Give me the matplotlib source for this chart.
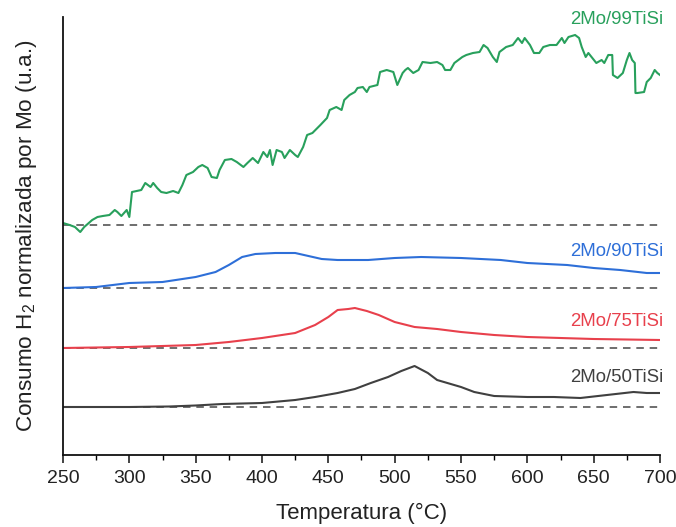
import matplotlib
matplotlib.use("Agg")
import matplotlib.pyplot as plt
from matplotlib.ticker import MultipleLocator

plt.rcParams['font.family'] = ['Liberation Sans', 'DejaVu Sans']

# ---- data (temperature in °C, signal in arbitrary units) ----
t_50 = [250, 300, 330, 350, 370, 400, 425, 440, 457, 470, 482, 495, 505, 515,
        525, 532, 550, 560, 575, 600, 620, 640, 660, 680, 690, 700]
y_50 = [48, 48, 48.5, 49.5, 51, 52, 55, 58, 62, 66, 72, 78, 84, 89,
        82, 75, 68, 63, 59, 58, 58, 57, 60, 63, 62, 62]
base_50 = 48

t_75 = [250, 300, 350, 375, 400, 425, 440, 450, 457, 465, 470, 479, 488, 500,
        515, 532, 550, 575, 600, 650, 700]
y_75 = [107, 108, 110, 113, 117, 122, 130, 138, 145, 146, 147, 144, 140, 133,
        128, 126, 123, 120, 118, 116, 115]
base_75 = 107

t_90 = [250, 275, 300, 325, 350, 365, 375, 385, 395, 410, 425, 435, 445, 457,
        480, 500, 520, 550, 580, 600, 630, 650, 670, 690, 700]
y_90 = [167, 168, 172, 173, 178, 183, 190, 198, 201, 202, 202, 199, 196, 195,
        195, 197, 198, 197, 195, 192, 190, 187, 185, 182, 182]
base_90 = 167

t_99 = [250, 255, 259, 263, 266, 272, 276, 280, 285, 289, 291, 294, 298, 300,
        302, 309, 312, 316, 318, 321, 324, 328, 333, 337, 340, 343, 348, 352,
        355, 359, 362, 366, 368, 372, 377, 381, 386, 389, 393, 397, 401, 404,
        406, 408, 411, 415, 417, 421, 425, 427, 431, 434, 438, 444, 449, 451,
        456, 460, 462, 466, 470, 472, 476, 479, 481, 487, 489, 494, 499, 502,
        506, 508, 510, 514, 518, 521, 527, 532, 536, 538, 542, 545, 551, 554,
        559, 564, 567, 570, 574, 577, 579, 584, 589, 593, 596, 598, 602, 605,
        609, 612, 617, 622, 626, 628, 631, 636, 639, 641, 644, 646, 649, 652,
        656, 658, 661, 664, 664.5, 668, 672, 675, 677, 679, 681, 681.5, 683,
        688, 690, 693, 696, 698, 700]
y_99 = [232, 230, 228, 223, 228, 235, 238, 239, 240, 245, 243, 239, 245, 238,
        263, 265, 272, 268, 272, 267, 263, 262, 264, 262, 270, 280, 283, 288,
        290, 287, 278, 277, 285, 295, 296, 293, 288, 292, 297, 292, 303, 298,
        305, 290, 305, 303, 297, 305, 300, 298, 308, 320, 322, 330, 337, 345,
        348, 345, 355, 360, 363, 367, 368, 363, 368, 370, 383, 385, 383, 370,
        382, 385, 387, 382, 385, 393, 392, 393, 390, 385, 385, 392, 398, 400,
        402, 403, 410, 407, 398, 393, 403, 408, 410, 417, 412, 417, 410, 402,
        402, 408, 410, 410, 417, 412, 418, 420, 417, 408, 398, 402, 397, 392,
        395, 392, 400, 400, 380, 377, 382, 395, 402, 395, 392, 362, 362,
        363, 373, 377, 385, 382, 380]
base_99 = 230

series = [
    ("2Mo/50TiSi", t_50, y_50, base_50, "#404040", 378),
    ("2Mo/75TiSi", t_75, y_75, base_75, "#e8404c", 321),
    ("2Mo/90TiSi", t_90, y_90, base_90, "#2e6fd8", 252),
    ("2Mo/99TiSi", t_99, y_99, base_99, "#28a05c", 20),
]

xticks = [250, 300, 350, 400, 450, 500, 550, 600, 650, 700]

fig = plt.figure(figsize=(6.76, 5.27), dpi=100)
ax = fig.add_axes([63/676, 1-455/527, (660-63)/676, (455-17)/527])

for name, t, y, base, color, label_py in series:
    ax.plot([250, 700], [base, base], linestyle=(0, (4.5, 3.5)), color="#555555", lw=1.2, zorder=1)
    ax.plot(t, y, color=color, lw=1.5, zorder=2)
    ax.text(702.5, 455 - label_py, name, color=color, fontsize=13.4, ha="right", va="center",
            clip_on=False)

ax.set_xlim(250, 700)
ax.set_ylim(0, 438)
ax.set_xticks(xticks)
ax.xaxis.set_minor_locator(MultipleLocator(25))
ax.tick_params(axis="x", which="major", direction="out", length=6, width=1.2, labelsize=14, pad=5, colors="#222222")
ax.tick_params(axis="x", which="minor", direction="out", length=3.5, width=1.0)
ax.set_yticks([])
for s in ("top", "right"):
    ax.spines[s].set_visible(False)
for s in ("left", "bottom"):
    ax.spines[s].set_linewidth(1.3)
    ax.spines[s].set_color("#111111")

ax.set_xlabel("Temperatura (°C)", fontsize=16, labelpad=11, color="#222222")
ax.set_ylabel("Consumo H$_{\\mathregular{2}}$ normalizada por Mo (u.a.)", fontsize=16.2, labelpad=17, color="#222222")

fig.savefig("out.png", dpi=100)
